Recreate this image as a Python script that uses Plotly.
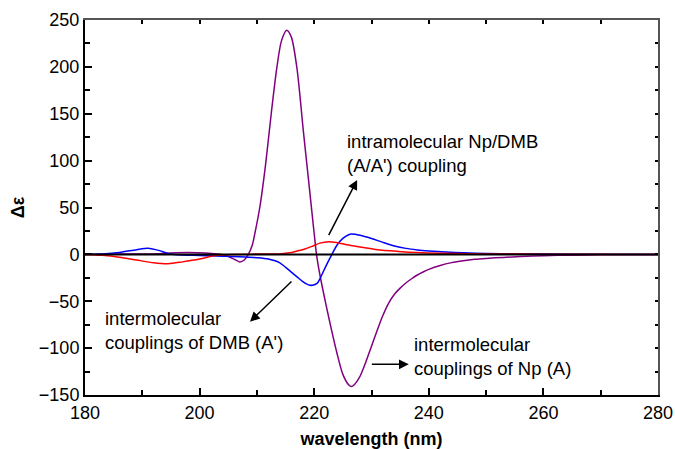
import plotly.graph_objects as go

# ---- data ----
wl_np = [180, 185, 190, 193, 195, 198, 201, 203, 204.5, 206, 207, 207.8, 208.5, 209.2, 209.7,
         210.5, 211.5, 212.5, 213.5, 214.3, 215.2, 216, 217, 218.1, 219, 220, 220.4, 221, 222,
         223, 224, 225, 226, 226.5, 227, 228, 229, 230, 231, 232, 233, 234, 235, 236, 237,
         238, 239, 240, 242, 244, 246, 248, 250, 253, 256, 260, 265, 270, 280]
de_np = [0, 0.3, 0.3, 0.8, 1.5, 2, 1.5, 0.5, -1, -5, -8, -6, 0, 10, 24,
         50, 95, 150, 200, 228, 239, 232, 198, 132, 80, 22, 0, -22, -52,
         -80, -106, -128, -139, -141, -139, -130, -115, -98, -81, -65, -52, -42.5, -36, -30.5, -26,
         -22, -18.8, -16, -11.8, -8.8, -6.8, -5.3, -4.3, -3.2, -2.3, -1.4, -0.8, -0.4, 0]

wl_dmb = [180, 183, 186, 189, 191, 193, 194.5, 196, 199, 203, 207, 210, 212, 214, 216, 217, 218,
          219, 219.7, 220.5, 221, 222, 223, 224, 225, 226, 226.5, 228, 230, 232, 234, 236,
          238, 240, 243, 246, 250, 255, 260, 270, 280]
de_dmb = [0, 0.5, 2, 5, 6.5, 4, 1, -0.5, -1, -1.8, -2.5, -3.5, -5, -9, -19, -24, -29,
          -32.5, -33, -31, -26, -13, -1, 10, 17, 21, 21.8, 20.5, 17, 12.8, 9, 6.4,
          4.8, 3.7, 2.5, 1.7, 1, 0.5, 0.3, 0.1, 0]

wl_intra = [180, 183, 186, 189, 192, 194.5, 197, 200, 203, 206, 210, 214, 216, 217, 218.5,
            219.8, 221, 222.5, 224, 226, 228.6, 231, 234.7, 238, 242, 250, 260, 280]
de_intra = [0, -1, -3, -6, -9, -10, -8, -5, -1, 0, 0.3, 0.5, 2, 3.6, 6,
            9, 12, 13.5, 12.5, 10, 7.3, 5, 3.2, 2, 1.2, 0.5, 0.2, 0]

zero_x = [180, 280]
zero_y = [0, 0]

x_ticks = [180, 200, 220, 240, 260, 280]
y_ticks = [-150, -100, -50, 0, 50, 100, 150, 200, 250]

FONT = "Arial, 'Liberation Sans', sans-serif"

fig = go.Figure()
fig.add_trace(go.Scatter(x=zero_x, y=zero_y, mode="lines", xaxis="x2", yaxis="y2",
                         line=dict(color="black", width=2), hoverinfo="skip", showlegend=False))
fig.add_trace(go.Scatter(x=wl_np, y=de_np, mode="lines", line=dict(color="#800080", width=1.5, shape="spline", smoothing=0.8), showlegend=False))
fig.add_trace(go.Scatter(x=wl_dmb, y=de_dmb, mode="lines", line=dict(color="#0000ff", width=1.5, shape="spline", smoothing=0.8), showlegend=False))
fig.add_trace(go.Scatter(x=wl_intra, y=de_intra, mode="lines", line=dict(color="#ff0000", width=1.5, shape="spline", smoothing=0.8), showlegend=False))

xr = [180, 280]
yr = [-150, 250]

fig.update_layout(
    width=675, height=449,
    margin=dict(l=85, r=17, t=20, b=54),
    paper_bgcolor="white", plot_bgcolor="white",
    font=dict(family=FONT, size=18, color="black"),
    xaxis=dict(range=xr, tickvals=x_ticks, ticks="inside", ticklen=7, tickwidth=1.5, tickcolor="black",
               showline=True, linecolor="black", linewidth=2, showgrid=False, zeroline=False, automargin=False,
               minor=dict(dtick=10, ticks="inside", ticklen=5, tickwidth=1.5, tickcolor="black", showgrid=False),
               title=dict(text="<b>wavelength (nm)</b>", font=dict(size=18), standoff=12)),
    yaxis=dict(range=yr, tickvals=y_ticks, ticks="inside", ticklen=7, tickwidth=1.5, tickcolor="black",
               showline=True, linecolor="black", linewidth=2, showgrid=False, zeroline=False, automargin=False,
               minor=dict(dtick=25, ticks="inside", ticklen=5, tickwidth=1.5, tickcolor="black", showgrid=False),
               title=dict(text="<b>Δε</b>", font=dict(size=18), standoff=10)),
    xaxis2=dict(range=xr, overlaying="x", side="top", anchor="y2", showticklabels=False, automargin=False,
                dtick=10, tick0=180, ticks="inside", ticklen=4, tickwidth=1.5, tickcolor="black",
                showline=True, linecolor="#555555", linewidth=2, showgrid=False, zeroline=False),
    yaxis2=dict(range=yr, overlaying="y", side="right", anchor="x2", showticklabels=False, automargin=False,
                dtick=25, tick0=0, ticks="inside", ticklen=3, tickwidth=1.5, tickcolor="black",
                showline=True, linecolor="#555555", linewidth=2, showgrid=False, zeroline=False),
)

texts = [
    (225.35, 107.4, "intramolecular Np/DMB<br>(A/A') coupling"),
    (183.1, -81.2, "intermolecular<br>couplings of DMB (A')"),
    (237.1, -108.9, "intermolecular<br>couplings of Np (A)"),
]
for x, y, t in texts:
    fig.add_annotation(x=x, y=y, xref="x", yref="y", text=t, showarrow=False,
                       xanchor="left", yanchor="middle", align="left",
                       font=dict(family=FONT, size=18.5, color="black"))

arrows = [
    ((222.4, 18.9), (227.5, 79.4)),
    ((216.3, -27.3), (208.8, -71.8)),
    ((229.8, -117.2), (236.5, -117.2)),
]
for (tx, ty), (hx, hy) in arrows:
    fig.add_annotation(x=hx, y=hy, ax=tx, ay=ty, xref="x", yref="y", axref="x", ayref="y",
                       text="", showarrow=True, arrowhead=2, arrowsize=1.3, arrowwidth=1.5,
                       arrowcolor="black", standoff=0, startstandoff=0)

fig.write_html("out.html")
